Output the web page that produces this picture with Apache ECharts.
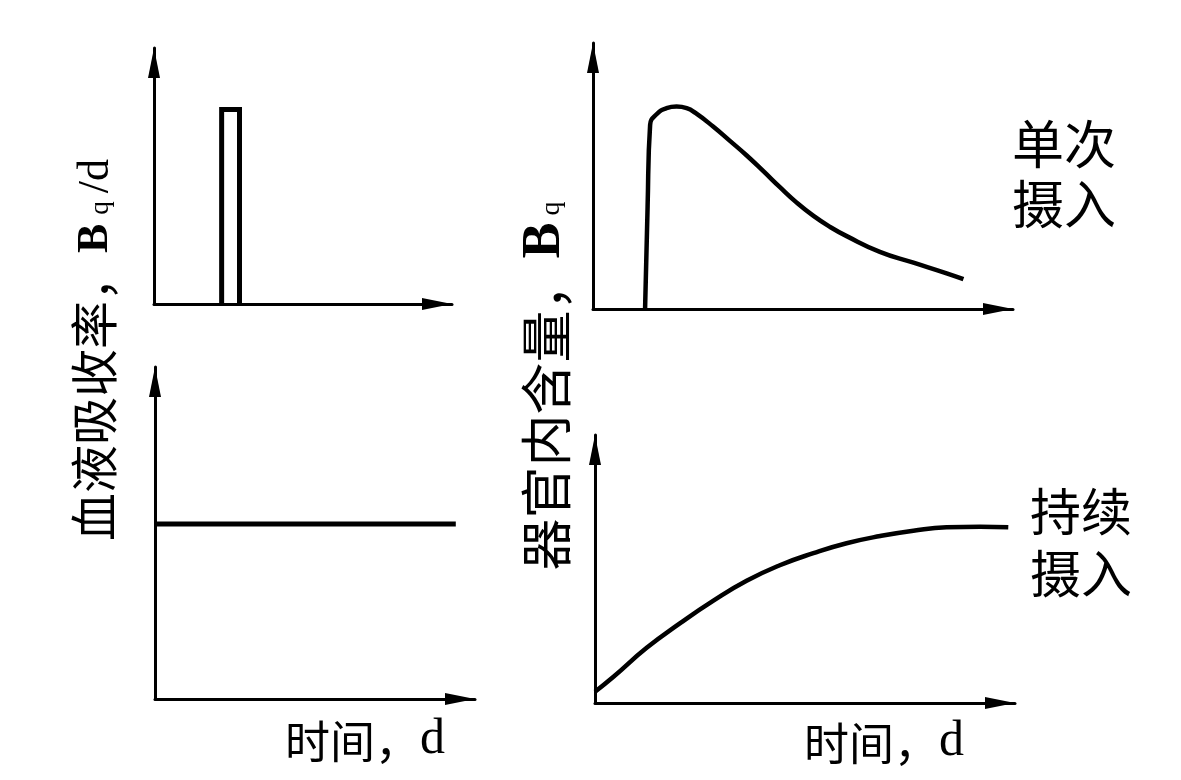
<!DOCTYPE html>
<html>
<head>
<meta charset="utf-8">
<script src="https://cdn.jsdelivr.net/npm/echarts@6/dist/echarts.min.js"></script>
<style>html,body{margin:0;padding:0;background:#fff}#c{width:1181px;height:780px}</style>
</head>
<body>
<div id="c"></div>
<script>
// ---- data (axis units 0..100, arbitrary scale as in the schematic) ----
// top-left: single pulse of blood absorption rate
const pulseX = [22.7, 22.7, 28.7, 28.7];
const pulseY = [0, 76, 76, 0];
// bottom-left: constant absorption rate
const steadyX = [0, 94];
const steadyY = [52.7, 52.7];
// top-right: organ content after single intake
const singleX = [12.4, 13.0, 13.6, 15.2, 17.5, 19.9, 22.3, 24.3, 28.6, 32.6, 36.6, 40.5, 44.5, 48.5, 52.5, 56.4, 60.4, 68.3, 76.3, 84.2, 88.2];
const singleY = [0, 38.5, 69.2, 73.3, 75.5, 76.1, 75.5, 73.8, 68.6, 63.2, 57.7, 51.9, 45.8, 40.0, 35.0, 30.9, 27.4, 21.5, 17.4, 13.4, 11.2];
// bottom-right: organ content under continuous intake
const contX = [0, 4.4, 12.3, 20.2, 28.2, 36.1, 44.0, 52.0, 59.9, 67.9, 75.8, 83.7, 91.7, 98.4];
const contY = [4.2, 9.8, 20.6, 29.7, 38.2, 45.6, 51.4, 55.9, 59.6, 62.3, 64.3, 65.6, 65.8, 65.6];
// texts
const leftYLabel = ['血液吸收率，', 'B', 'q', '/d'];
const rightYLabel = ['器官内含量，', 'B', 'q'];
const xLabel = ['时间，', 'd'];
const singleTag = '单次\n摄入';
const contTag = '持续\n摄入';

const CJK = '"Noto Sans CJK SC"';
const SERIF = '"Liberation Serif", "DejaVu Serif", serif';

function axis(gi) {
  return {
    type: 'value', gridIndex: gi, min: 0, max: 100,
    axisLine: { show: true, onZero: false, symbol: ['none', 'triangle'], symbolSize: [12, 30], symbolOffset: [0, -15],
      lineStyle: { color: '#000', width: 3 } },
    axisTick: { show: false }, axisLabel: { show: false }, splitLine: { show: false }
  };
}
function pts(xs, ys) { return xs.map((x, i) => [x, ys[i]]); }
function lineSeries(gi, xs, ys, w, smooth) {
  return { type: 'line', xAxisIndex: gi, yAxisIndex: gi, data: pts(xs, ys), symbol: 'none', smooth: smooth || false,
    clip: false, silent: true, animation: false,
    lineStyle: { color: '#000', width: w, join: 'miter', cap: 'butt' } };
}

const richLeft = {
  c: { fontFamily: CJK, fontSize: 48, fill: '#000', verticalAlign: 'bottom' },
  b: { fontFamily: SERIF, fontSize: 44, fontWeight: 'bold', fill: '#000', verticalAlign: 'bottom' },
  q: { fontFamily: SERIF, fontSize: 27, fill: '#000', verticalAlign: 'bottom', padding: [0, 8, 4, 9] },
  r: { fontFamily: SERIF, fontSize: 44, fill: '#000', verticalAlign: 'bottom' }
};
const richRight = {
  c: { fontFamily: CJK, fontSize: 52, fill: '#000', verticalAlign: 'bottom' },
  b: { fontFamily: SERIF, fontSize: 54, fontWeight: 'bold', fill: '#000', verticalAlign: 'bottom' },
  q: { fontFamily: SERIF, fontSize: 28, fill: '#000', verticalAlign: 'bottom', padding: [0, 0, 6, 7] }
};
const richX = {
  c: { fontFamily: CJK, fontSize: 45, fill: '#000', verticalAlign: 'bottom' },
  r: { fontFamily: SERIF, fontSize: 50, lineHeight: 44, fill: '#000', verticalAlign: 'bottom' }
};

const chart = echarts.init(document.getElementById('c'), null, { renderer: 'canvas' });
chart.setOption({
  backgroundColor: '#fff',
  animation: false,
  grid: [
    { left: 154, top: 48, width: 298, height: 256, outerBoundsMode: 'none' },
    { left: 155, top: 367, width: 320, height: 332, outerBoundsMode: 'none' },
    { left: 593, top: 43, width: 420, height: 266, outerBoundsMode: 'none' },
    { left: 595, top: 435, width: 420, height: 268, outerBoundsMode: 'none' }
  ],
  xAxis: [axis(0), axis(1), axis(2), axis(3)],
  yAxis: [axis(0), axis(1), axis(2), axis(3)],
  series: [
    lineSeries(0, pulseX, pulseY, 5),
    lineSeries(1, steadyX, steadyY, 5),
    lineSeries(2, singleX, singleY, 4.5, 0.5),
    lineSeries(3, contX, contY, 4.5, 0.5)
  ],
  graphic: [
    { type: 'text', x: 94, y: 350, rotation: Math.PI / 2,
      style: { text: '{c|' + leftYLabel[0] + '}{b|' + leftYLabel[1] + '}{q|' + leftYLabel[2] + '}{r|' + leftYLabel[3] + '}',
        rich: richLeft, align: 'center', verticalAlign: 'middle' } },
    { type: 'text', x: 545, y: 386, rotation: Math.PI / 2,
      style: { text: '{c|' + rightYLabel[0] + '}{b|' + rightYLabel[1] + '}{q|' + rightYLabel[2] + '}',
        rich: richRight, align: 'center', verticalAlign: 'middle' } },
    { type: 'text', x: 365, y: 742,
      style: { text: '{c|' + xLabel[0] + '}{r|' + xLabel[1] + '}', rich: richX, align: 'center', verticalAlign: 'middle' } },
    { type: 'text', x: 884, y: 744,
      style: { text: '{c|' + xLabel[0] + '}{r|' + xLabel[1] + '}', rich: richX, align: 'center', verticalAlign: 'middle' } },
    { type: 'text', x: 1012, y: 174,
      style: { text: singleTag, fontFamily: CJK, fontSize: 52, lineHeight: 60, fill: '#000', align: 'left', verticalAlign: 'middle' } },
    { type: 'text', x: 1030, y: 543,
      style: { text: contTag, fontFamily: CJK, fontSize: 51, lineHeight: 62, fill: '#000', align: 'left', verticalAlign: 'middle' } }
  ]
});
</script>
</body>
</html>
